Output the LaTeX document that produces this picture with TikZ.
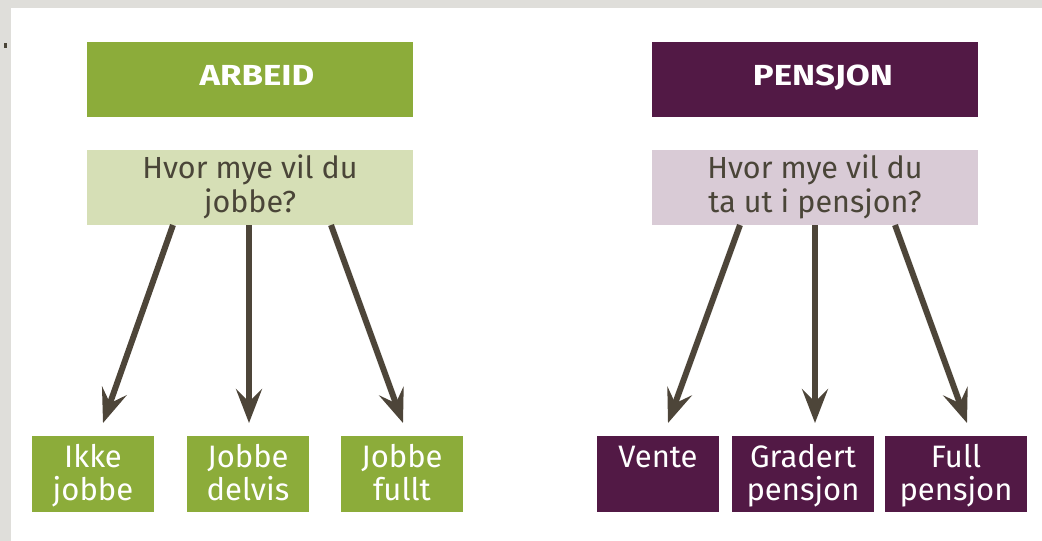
\documentclass[tikz,border=0pt]{standalone}
\usepackage{fontspec}
\usepackage{graphicx}
\setmainfont{Fira Sans}
\usetikzlibrary{arrows.meta,calc}
\definecolor{arbgreen}{HTML}{8CAC3A}
\definecolor{penpurple}{HTML}{521945}
\definecolor{lightgreen}{HTML}{D6DFB6}
\definecolor{lightpurple}{HTML}{D9CBD6}
\definecolor{framegray}{HTML}{DFDEDA}
\definecolor{arrowcol}{HTML}{4D4539}
\definecolor{qtext}{HTML}{4A4538}
\tikzset{
  boxfill/.style={draw=none, inner sep=0pt, outer sep=0pt, anchor=north west},
  headtext/.style={anchor=base, text=white, font=\fontsize{29}{32}\selectfont\bfseries, inner sep=0pt},
  qtxt/.style={anchor=base, text=qtext, align=center, font=\fontsize{30.5}{34.5}\selectfont, inner sep=0pt},
  btxt/.style={anchor=base, text=white, align=center, font=\fontsize{31}{33}\selectfont, inner sep=0pt},
  arr/.style={draw=arrowcol, line width=6pt, -{Stealth[length=34pt,width=26pt,inset=13pt]}},
}
\begin{document}
\begin{tikzpicture}[x=1pt,y=-1pt]
\useasboundingbox (0,0) rectangle (1042,541);
\fill[white] (0,0) rectangle (1042,541);
\fill[framegray] (0,0) rectangle (1042,8);
\fill[framegray] (0,0) rectangle (11,541);
\fill[qtext] (4,43) rectangle (7,48);
% headers
\node[boxfill, fill=arbgreen, minimum width=326pt, minimum height=75pt] (ha) at (87,42) {};
\node[boxfill, fill=penpurple, minimum width=326pt, minimum height=75pt] (hp) at (652,42) {};
\node[headtext] (hat) at ($(ha.north)+(7,43)$) {\scalebox{1.2}[1]{ARBEID}};
\node[headtext] (hpt) at ($(hp.north)+(8,43)$) {\scalebox{1.2}[1]{PENSJON}};
% questions
\node[boxfill, fill=lightgreen, minimum width=326pt, minimum height=75pt] (qa) at (87,150) {};
\node[boxfill, fill=lightpurple, minimum width=326pt, minimum height=75pt] (qp) at (652,150) {};
\node[qtxt] (qat) at ($(qa.north)+(0,62.5)$) {Hvor mye vil du\\jobbe?};
\node[qtxt] (qpt) at ($(qp.north)+(0,62.5)$) {Hvor mye vil du\\ta ut i pensjon?};
% bottom boxes
\node[boxfill, fill=arbgreen, minimum width=122pt, minimum height=76pt] (b1) at (32,436) {};
\node[boxfill, fill=arbgreen, minimum width=122pt, minimum height=76pt] (b2) at (187,436) {};
\node[boxfill, fill=arbgreen, minimum width=122pt, minimum height=76pt] (b3) at (341,436) {};
\node[boxfill, fill=penpurple, minimum width=122pt, minimum height=76pt] (b4) at (597,436) {};
\node[boxfill, fill=penpurple, minimum width=142pt, minimum height=76pt] (b5) at (732,436) {};
\node[boxfill, fill=penpurple, minimum width=142pt, minimum height=76pt] (b6) at (885,436) {};
\node[btxt] (b1t) at ($(b1.north)+(0,64)$) {Ikke\\jobbe};
\node[btxt] (b2t) at ($(b2.north)+(0,64)$) {Jobbe\\delvis};
\node[btxt] (b3t) at ($(b3.north)+(0,64)$) {Jobbe\\fullt};
\node[btxt] (b4t) at ($(b4.north)+(0,31)$) {Vente};
\node[btxt] (b5t) at ($(b5.north)+(0,64)$) {Gradert\\pensjon};
\node[btxt] (b6t) at ($(b6.north)+(0,64)$) {Full\\pensjon};
% connectors
\draw[arr] ($(qa.south west)+(86,0)$) -- ($(b1.north)+(10,-13)$);
\draw[arr] ($(qa.south west)+(162,0)$) -- ($(b2.north)+(1,-13)$);
\draw[arr] ($(qa.south west)+(244,0)$) -- ($(b3.north)+(1,-13)$);
\draw[arr] ($(qp.south west)+(88,0)$) -- ($(b4.north)+(10,-13)$);
\draw[arr] ($(qp.south west)+(163,0)$) -- ($(b5.north)+(12,-13)$);
\draw[arr] ($(qp.south west)+(243,0)$) -- ($(b6.north)+(11,-13)$);
\end{tikzpicture}
\end{document}
